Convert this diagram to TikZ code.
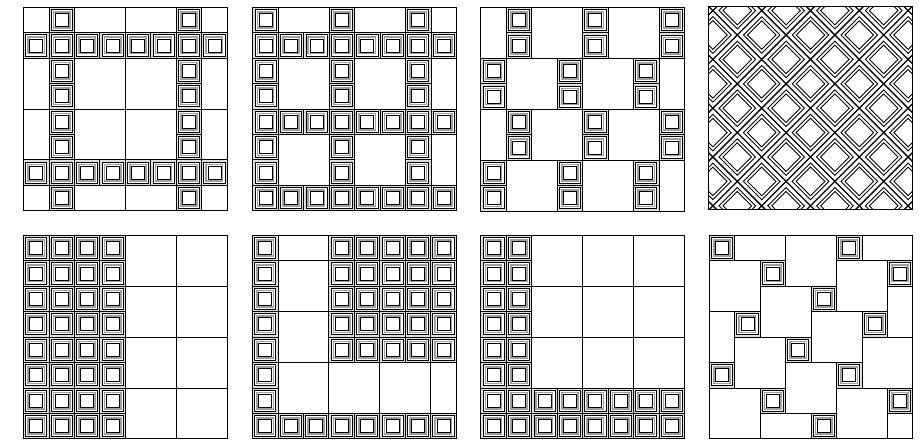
\documentclass[tikz,border=0pt]{standalone}
\begin{document}
\begin{tikzpicture}
\tikzset{
  cellline/.style={black, line width=0.8pt},
  tileouter/.style={black, line width=0.7pt, fill=white},
  tileband/.style={gray!75, line width=1.6pt},
  tileinner/.style={black, line width=0.7pt},
  panelgrid/.style={x=25.45pt, y=-25.45pt},
  latline/.style={black, line width=1.3pt},
  dmd/.style={black, line width=0.9pt},
}
\newcommand{\tl}[2]{%
  \fill[gray!25] (#1,#2) rectangle ++(1,1);
  \draw[tileouter] (#1+0.086,#2+0.086) rectangle (#1+0.914,#2+0.914);
  \draw[tileband] (#1+0.18,#2+0.18) rectangle (#1+0.82,#2+0.82);
  \draw[tileinner] (#1+0.245,#2+0.245) rectangle (#1+0.755,#2+0.755);
  \draw[cellline] (#1,#2) rectangle ++(1,1);
}
\newcommand{\bl}[4]{\draw[cellline] (#1,#2) rectangle ++(#3,#4);}
\useasboundingbox (0,0) rectangle (922pt,-441pt);
\fill[white] (0,0) rectangle (922pt,-441pt);

% Panel 1
\begin{scope}[panelgrid, shift={(23.5pt,-7.2pt)}]
  \foreach \c in {0,...,7} {\tl{\c}{1} \tl{\c}{6}}
  \foreach \r in {0,2,3,4,5,7} {\tl{1}{\r} \tl{6}{\r}}
  \foreach \r in {0,7} {\bl{0}{\r}{1}{1} \bl{2}{\r}{2}{1} \bl{4}{\r}{2}{1} \bl{7}{\r}{1}{1}}
  \foreach \r in {2,4} {\bl{0}{\r}{1}{2} \bl{2}{\r}{2}{2} \bl{4}{\r}{2}{2} \bl{7}{\r}{1}{2}}
  \draw[cellline] (0,0) rectangle (8,8);
\end{scope}

% Panel 2
\begin{scope}[panelgrid, shift={(252.8pt,-7.2pt)}]
  \foreach \c in {0,...,7} {\tl{\c}{1} \tl{\c}{4} \tl{\c}{7}}
  \foreach \r in {0,2,3,5,6} {\tl{0}{\r} \tl{3}{\r} \tl{6}{\r}}
  \bl{1}{0}{2}{1} \bl{4}{0}{2}{1} \bl{7}{0}{1}{1}
  \foreach \r in {2,5} {\bl{1}{\r}{2}{2} \bl{4}{\r}{2}{2} \bl{7}{\r}{1}{2}}
  \draw[cellline] (0,0) rectangle (8,8);
\end{scope}

% Panel 3
\begin{scope}[panelgrid, shift={(480.8pt,-7.4pt)}]
  \foreach \r in {0,1,4,5} {\tl{1}{\r} \tl{4}{\r} \tl{7}{\r}}
  \foreach \r in {2,3,6,7} {\tl{0}{\r} \tl{3}{\r} \tl{6}{\r}}
  \foreach \r in {0,4} {\bl{0}{\r}{1}{2} \bl{2}{\r}{2}{2} \bl{5}{\r}{2}{2}}
  \foreach \r in {2,6} {\bl{1}{\r}{2}{2} \bl{4}{\r}{2}{2} \bl{7}{\r}{1}{2}}
  \draw[cellline] (0,0) rectangle (8,8);
\end{scope}

% Panel 4
\begin{scope}[x=1pt, y=-1pt, shift={(708.6pt,-6.3pt)}]
  \begin{scope}
    \clip (0,0) rectangle (203.6,203.6);
    \def\lo{4.3}
    \def\ls{24.4}
    \foreach \i in {-1,...,9} {
      \foreach \j in {-1,...,9} {
        \pgfmathtruncatemacro{\pty}{mod(\i+\j+20,2)}
        \ifnum\pty=1
          \pgfmathsetmacro{\cx}{\lo+\ls*\i}
          \pgfmathsetmacro{\cy}{\lo+\ls*\j}
          \draw[dmd] (\cx+18.3,\cy) -- (\cx,\cy+18.3) -- (\cx-18.3,\cy) -- (\cx,\cy-18.3) -- cycle;
          \draw[dmd] (\cx+14.3,\cy) -- (\cx,\cy+14.3) -- (\cx-14.3,\cy) -- (\cx,\cy-14.3) -- cycle;
        \fi
      }
    }
    \foreach \k in {-5,...,5} {
      \draw[latline] (\lo+2*\ls*\k-100,\lo-100) -- (\lo+2*\ls*\k+320,\lo+320);
    }
    \foreach \k in {-1,...,9} {
      \draw[latline] (\lo+2*\ls*\k+100,\lo-100) -- (\lo+2*\ls*\k-320,\lo+320);
    }
  \end{scope}
  \draw[cellline] (0,0) rectangle (203.6,203.6);
\end{scope}

% Panel 5
\begin{scope}[panelgrid, shift={(23.5pt,-235.2pt)}]
  \foreach \r in {0,...,7} {\tl{0}{\r} \tl{1}{\r} \tl{2}{\r} \tl{3}{\r}}
  \foreach \r in {0,2,4,6} {\bl{4}{\r}{2}{2} \bl{6}{\r}{2}{2}}
  \draw[cellline] (0,0) rectangle (8,8);
\end{scope}

% Panel 6
\begin{scope}[panelgrid, shift={(252.5pt,-235.2pt)}]
  \foreach \r in {0,...,7} {\tl{0}{\r}}
  \foreach \r in {0,...,4} {\foreach \c in {3,...,7} {\tl{\c}{\r}}}
  \foreach \c in {1,...,7} {\tl{\c}{7}}
  \bl{1}{0}{2}{1} \bl{1}{1}{2}{2} \bl{1}{3}{2}{2}
  \bl{1}{5}{2}{2} \bl{3}{5}{2}{2} \bl{5}{5}{2}{2} \bl{7}{5}{1}{2}
  \draw[cellline] (0,0) rectangle (8,8);
\end{scope}

% Panel 7
\begin{scope}[panelgrid, shift={(480.8pt,-235.2pt)}]
  \foreach \r in {0,...,7} {\tl{0}{\r} \tl{1}{\r}}
  \foreach \c in {2,...,7} {\tl{\c}{6} \tl{\c}{7}}
  \foreach \r in {0,2,4} {\bl{2}{\r}{2}{2} \bl{4}{\r}{2}{2} \bl{6}{\r}{2}{2}}
  \draw[cellline] (0,0) rectangle (8,8);
\end{scope}

% Panel 8
\begin{scope}[panelgrid, shift={(709.2pt,-235.2pt)}]
  \tl{0}{0} \tl{5}{0} \tl{2}{1} \tl{7}{1} \tl{4}{2} \tl{1}{3} \tl{6}{3}
  \tl{3}{4} \tl{0}{5} \tl{5}{5} \tl{2}{6} \tl{7}{6} \tl{4}{7}
  \bl{1}{0}{2}{1} \bl{3}{0}{2}{2} \bl{6}{0}{2}{1}
  \bl{0}{1}{2}{2} \bl{5}{1}{2}{2}
  \bl{2}{2}{2}{2} \bl{7}{2}{1}{2}
  \bl{0}{3}{1}{2} \bl{4}{3}{2}{2}
  \bl{1}{4}{2}{2} \bl{6}{4}{2}{2}
  \bl{3}{5}{2}{2}
  \bl{0}{6}{2}{2} \bl{5}{6}{2}{2}
  \bl{2}{7}{2}{1} \bl{7}{7}{1}{1}
  \draw[cellline] (0,0) rectangle (8,8);
\end{scope}
\end{tikzpicture}
\end{document}
